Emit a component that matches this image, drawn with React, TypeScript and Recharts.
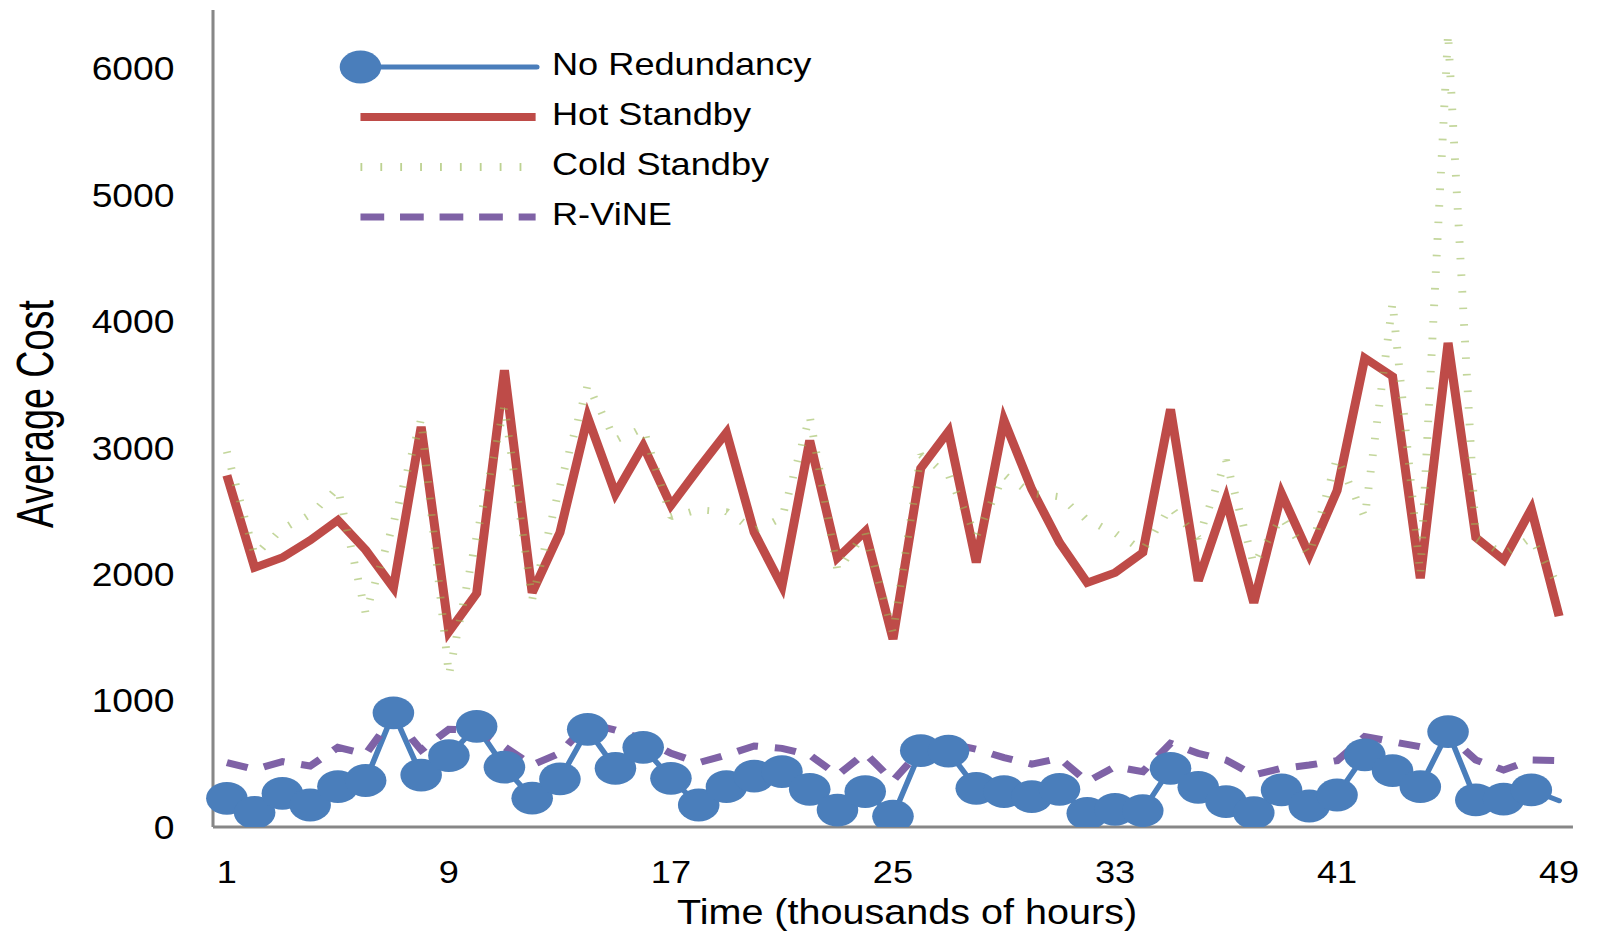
import React from "react";
import { Legend, Line, LineChart, XAxis, YAxis } from "recharts";

const hours = [
  1, 2, 3, 4, 5, 6, 7, 8, 9, 10, 11, 12, 13, 14, 15, 16, 17, 18, 19, 20, 21, 22, 23, 24, 25,
  26, 27, 28, 29, 30, 31, 32, 33, 34, 35, 36, 37, 38, 39, 40, 41, 42, 43, 44, 45, 46, 47, 48, 49,
];

const noRedundancy = [
  227, 115, 266, 174, 320, 368, 903, 411, 565, 796, 473, 228, 380, 773, 464, 630, 385, 174, 319, 403,
  438, 298, 134, 280, 85, 605, 600, 306, 280, 240, 298, 108, 140, 129, 464, 314, 200, 113, 293, 166,
  253, 570, 446, 319, 754, 214, 220, 293, 208,
];

const hotStandby = [
  2782, 2052, 2132, 2268, 2428, 2192, 1893, 3166, 1545, 1849, 3614, 1853, 2330, 3242, 2637, 3016, 2545,
  2839, 3121, 2330, 1906, 3058, 2129, 2339, 1486, 2839, 3130, 2092, 3218, 2672, 2250, 1932, 2012, 2171,
  3305, 1947, 2592, 1774, 2637, 2153, 2661, 3710, 3565, 1968, 3831, 2290, 2113, 2516, 1669,
];

const coldStandby = [
  2970, 2150, 2360, 2470, 2680, 1690, 2400, 3228, 1202, 2300, 3331, 1800, 2700, 3497, 3062, 3154, 2455,
  2508, 2495, 2350, 2443, 3250, 2030, 2330, 1535, 2943, 2785, 2300, 2785, 2640, 2613, 2429, 2325, 2191,
  2530, 2286, 2903, 2077, 2450, 2150, 2920, 2452, 4150, 1994, 6280, 2286, 2160, 2286, 1900,
];

const rVine = [
  509, 456, 517, 483, 630, 577, 873, 609, 773, 767, 635, 490, 585, 820, 767, 694, 583, 509, 570, 641,
  622, 570, 411, 583, 365, 609, 662, 615, 549, 498, 543, 359, 477, 438, 662, 583, 530, 411, 464, 490,
  525, 715, 675, 635, 728, 530, 451, 530, 525,
];

const yTicks = [0, 1000, 2000, 3000, 4000, 5000, 6000];

const BLUE = "#4A7EBB";
const RED = "#BE4B48";
const GREEN = "#9BBB59";
const PURPLE = "#7F62A6";
const AXIS = "#878787";
const FONT = "'Liberation Sans', Arial, sans-serif";

const data = hours.map((t, i) => ({
  t,
  noRedundancy: noRedundancy[i],
  hotStandby: hotStandby[i],
  coldStandby: coldStandby[i],
  rVine: rVine[i],
}));

// last point of "No Redundancy" has no marker in the original
const blueDot = (props: any) => {
  const { cx, cy, index } = props;
  if (index === noRedundancy.length - 1) return <g key={`nr-${index}`} />;
  return <ellipse key={`nr-${index}`} cx={cx} cy={cy} rx={18.4} ry={16.4} fill={BLUE} />;
};

const legendItems = [
  { name: "No Redundancy", kind: "blue" },
  { name: "Hot Standby", kind: "red" },
  { name: "Cold Standby", kind: "green" },
  { name: "R-ViNE", kind: "purple" },
];

function Sample({ kind }: { kind: string }) {
  return (
    <svg width={190} height={50} style={{ display: "block" }}>
      {kind === "blue" && (
        <>
          <line x1={29} y1={25} x2={185} y2={25} stroke={BLUE} strokeWidth={5} strokeLinecap="round" />
          <ellipse cx={29} cy={25} rx={18.4} ry={16.4} fill={BLUE} />
        </>
      )}
      {kind === "red" && <line x1={29} y1={25} x2={184} y2={25} stroke={RED} strokeWidth={8} />}
      {kind === "green" && (
        <line x1={29} y1={25} x2={184} y2={25} stroke={GREEN} strokeWidth={8} strokeDasharray="1.6 16" opacity={0.65} />
      )}
      {kind === "purple" && (
        <line x1={29} y1={25} x2={184} y2={25} stroke={PURPLE} strokeWidth={7} strokeDasharray="21 14" />
      )}
    </svg>
  );
}

const renderLegend = () => (
  <div style={{ fontFamily: FONT }}>
    {legendItems.map((it) => (
      <div key={it.name} style={{ display: "flex", alignItems: "center", height: 50 }}>
        <Sample kind={it.kind} />
        <span style={{ fontSize: 32, color: "#000", marginLeft: 8.5, lineHeight: "50px", marginTop: -6 }}>{it.name}</span>
      </div>
    ))}
  </div>
);

export default function App() {
  return (
    <div
      style={{
        position: "absolute",
        left: 0,
        top: 0,
        width: 1414,
        height: 934,
        transform: "scaleX(1.13)",
        transformOrigin: "0 0",
        background: "#fff",
        fontFamily: FONT,
      }}
    >
      <LineChart width={1414} height={934} data={data} margin={{ top: 10, right: 22, bottom: 47, left: 0 }}>
        <XAxis
          dataKey="t"
          interval={7}
          padding={{ left: 12.28, right: 12.28 }}
          height={60}
          tickLine={false}
          tickSize={0}
          tickMargin={33}
          axisLine={{ stroke: AXIS, strokeWidth: 3 }}
          tick={{ fontSize: 32, fill: "#000", fontFamily: FONT }}
        />
        <YAxis
          domain={[0, 6464]}
          ticks={yTicks}
          width={188.5}
          tickLine={false}
          tickSize={0}
          tickMargin={34}
          axisLine={{ stroke: AXIS, strokeWidth: 2.7 }}
          tick={{ fontSize: 33, fill: "#000", fontFamily: FONT }}
          allowDataOverflow
        />
        <Legend
          layout="vertical"
          align="center"
          verticalAlign="middle"
          content={renderLegend}
          wrapperStyle={{ left: 290, top: 42, width: 520, height: 200 }}
        />
        <Line
          dataKey="noRedundancy"
          name="No Redundancy"
          stroke={BLUE}
          strokeWidth={5}
          strokeLinecap="round"
          dot={blueDot}
          activeDot={false}
          isAnimationActive={false}
        />
        <Line
          dataKey="hotStandby"
          name="Hot Standby"
          stroke={RED}
          strokeWidth={8}
          dot={false}
          activeDot={false}
          isAnimationActive={false}
        />
        <Line
          dataKey="coldStandby"
          name="Cold Standby"
          stroke={GREEN}
          strokeWidth={7}
          strokeDasharray="1.6 15"
          strokeOpacity={0.6}
          strokeLinejoin="bevel"
          dot={false}
          activeDot={false}
          isAnimationActive={false}
        />
        <Line
          dataKey="rVine"
          name="R-ViNE"
          stroke={PURPLE}
          strokeWidth={7}
          strokeDasharray="19 15"
          dot={false}
          activeDot={false}
          isAnimationActive={false}
        />
      </LineChart>
      <div
        style={{
          position: "absolute",
          left: 502.7,
          top: 898,
          width: 600,
          textAlign: "center",
          fontSize: 35,
          lineHeight: "28px",
          color: "#000",
          whiteSpace: "nowrap",
        }}
      >
        Time (thousands of hours)
      </div>
      <div
        style={{
          position: "absolute",
          left: 31 - 150,
          top: 414 - 25,
          width: 300,
          height: 50,
          lineHeight: "50px",
          textAlign: "center",
          fontSize: 46,
          color: "#000",
          whiteSpace: "nowrap",
          transform: "rotate(-90deg) scaleX(0.82)",
          transformOrigin: "50% 50%",
        }}
      >
        Average Cost
      </div>
    </div>
  );
}
